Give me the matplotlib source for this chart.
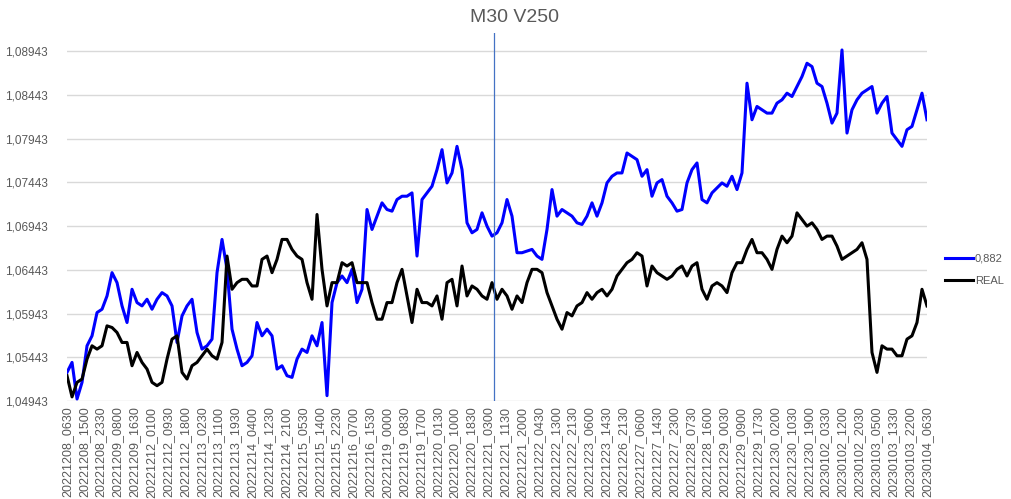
import matplotlib.pyplot as plt
import numpy as np

# tick labels (one every 17 half-hour bars)
labels = [
    '20221208_0630', '20221208_1500', '20221208_2330', '20221209_0800', '20221209_1630',
    '20221212_0100', '20221212_0930', '20221212_1800', '20221213_0230', '20221213_1100',
    '20221213_1930', '20221214_0400', '20221214_1230', '20221214_2100', '20221215_0530',
    '20221215_1400', '20221215_2230', '20221216_0700', '20221216_1530', '20221219_0000',
    '20221219_0830', '20221219_1700', '20221220_0130', '20221220_1000', '20221220_1830',
    '20221221_0300', '20221221_1130', '20221221_2000', '20221222_0430', '20221222_1300',
    '20221222_2130', '20221223_0600', '20221223_1430', '20221226_2130', '20221227_0600',
    '20221227_1430', '20221227_2300', '20221228_0730', '20221228_1600', '20221229_0030',
    '20221229_0900', '20221229_1730', '20221230_0200', '20221230_1030', '20221230_1900',
    '20230102_0330', '20230102_1200', '20230102_2030', '20230103_0500', '20230103_1330',
    '20230103_2200', '20230104_0630',
]

# series "0,882" (sampled along the chart)
pred = [
    1.05270, 1.05384, 1.04966, 1.05156, 1.05574, 1.05688, 1.05954, 1.05992, 1.06144, 1.06410,
    1.06296, 1.06030, 1.05840, 1.06220, 1.06068, 1.06030, 1.06106, 1.05992, 1.06106, 1.06182,
    1.06144, 1.06030, 1.05612, 1.05916, 1.06030, 1.06106, 1.05726, 1.05536, 1.05574,
    1.05650, 1.06410, 1.06790, 1.06448, 1.05764, 1.05536, 1.05346, 1.05384, 1.05460, 1.05840,
    1.05688, 1.05764, 1.05688, 1.05308, 1.05346, 1.05232, 1.05213, 1.05422, 1.05536, 1.05498,
    1.05688, 1.05574, 1.05840, 1.05004, 1.06068, 1.06296, 1.06372, 1.06296, 1.06448,
    1.06068, 1.06220, 1.07132, 1.06904, 1.07056, 1.07208, 1.07132, 1.07113, 1.07246, 1.07284,
    1.07284, 1.07322, 1.06600, 1.07246, 1.07322, 1.07398, 1.07588, 1.07816, 1.07436, 1.07550,
    1.07854, 1.07588, 1.06980, 1.06866, 1.06904, 1.07094, 1.06942, 1.06828, 1.06866,
    1.06980, 1.07246, 1.07056, 1.06638, 1.06638, 1.06657, 1.06676, 1.06600, 1.06562, 1.06904,
    1.07360, 1.07056, 1.07132, 1.07094, 1.07056, 1.06980, 1.06961, 1.07056, 1.07208, 1.07056,
    1.07208, 1.07436, 1.07512, 1.07550, 1.07550, 1.07778, 1.07740, 1.07702, 1.07512,
    1.07588, 1.07284, 1.07436, 1.07474, 1.07284, 1.07208, 1.07113, 1.07132, 1.07436, 1.07588,
    1.07664, 1.07246, 1.07208, 1.07322, 1.07379, 1.07436, 1.07398, 1.07512, 1.07360, 1.07550,
    1.08576, 1.08158, 1.08310, 1.08272, 1.08234, 1.08234, 1.08348, 1.08386, 1.08462,
    1.08424, 1.08538, 1.08652, 1.08804, 1.08766, 1.08576, 1.08538, 1.08348, 1.08120, 1.08234,
    1.08956, 1.08006, 1.08272, 1.08386, 1.08462, 1.08500, 1.08538, 1.08234, 1.08348, 1.08424,
    1.08006, 1.07930, 1.07854, 1.08044, 1.08082, 1.08272, 1.08462, 1.08158,
]

# series "REAL"
real = [
    1.05232, 1.04990, 1.05156, 1.05194, 1.05422, 1.05574, 1.05536, 1.05574, 1.05802, 1.05783,
    1.05726, 1.05612, 1.05612, 1.05346, 1.05498, 1.05384, 1.05308, 1.05156, 1.05118, 1.05156,
    1.05422, 1.05650, 1.05688, 1.05270, 1.05194, 1.05346, 1.05384, 1.05460, 1.05536,
    1.05460, 1.05422, 1.05612, 1.06600, 1.06220, 1.06296, 1.06334, 1.06334, 1.06258, 1.06258,
    1.06562, 1.06600, 1.06410, 1.06562, 1.06790, 1.06790, 1.06676, 1.06600, 1.06562, 1.06296,
    1.06106, 1.07075, 1.06448, 1.06030, 1.06296, 1.06296, 1.06524, 1.06486, 1.06524,
    1.06296, 1.06296, 1.06296, 1.06068, 1.05878, 1.05878, 1.06068, 1.06068, 1.06296, 1.06448,
    1.06144, 1.05840, 1.06220, 1.06068, 1.06068, 1.06030, 1.06144, 1.05878, 1.06296, 1.06334,
    1.06030, 1.06486, 1.06144, 1.06258, 1.06220, 1.06144, 1.06106, 1.06296, 1.06106,
    1.06220, 1.06144, 1.05992, 1.06144, 1.06068, 1.06296, 1.06448, 1.06448, 1.06410, 1.06182,
    1.06030, 1.05878, 1.05764, 1.05954, 1.05916, 1.06030, 1.06068, 1.06182, 1.06106, 1.06182,
    1.06220, 1.06144, 1.06220, 1.06372, 1.06448, 1.06524, 1.06562, 1.06638, 1.06600,
    1.06258, 1.06486, 1.06410, 1.06372, 1.06334, 1.06372, 1.06448, 1.06486, 1.06372, 1.06486,
    1.06524, 1.06220, 1.06106, 1.06258, 1.06296, 1.06258, 1.06182, 1.06410, 1.06524, 1.06524,
    1.06676, 1.06790, 1.06638, 1.06638, 1.06562, 1.06448, 1.06676, 1.06828, 1.06752,
    1.06828, 1.07094, 1.07018, 1.06942, 1.06980, 1.06904, 1.06790, 1.06828, 1.06828, 1.06714,
    1.06562, 1.06600, 1.06638, 1.06676, 1.06752, 1.06562, 1.05498, 1.05270, 1.05574, 1.05536,
    1.05536, 1.05460, 1.05460, 1.05650, 1.05688, 1.05840, 1.06220, 1.06030,
]

y_ticks = [1.04943, 1.05443, 1.05943, 1.06443, 1.06943, 1.07443, 1.07943, 1.08443, 1.08943]
split_at = 85.4  # position of the vertical marker, in sample units

def main():
    gray = '#595959'
    plt.rcParams['font.family'] = ['Liberation Sans', 'DejaVu Sans']

    fig = plt.figure(figsize=(10.11, 4.99), dpi=100)
    ax = fig.add_axes([0.0663, 0.1964, 0.8506, 0.7375])

    x = np.arange(len(pred))
    ax.plot(x, pred, color='#0000ff', lw=2.2, label='0,882', solid_joinstyle='round')
    ax.plot(x, real, color='black', lw=2.2, label='REAL', solid_joinstyle='round')
    ax.axvline(split_at, color='#4472c4', lw=0.9)

    ax.set_xlim(0, len(pred) - 1)
    ax.set_ylim(1.04943, 1.0915)
    ax.set_yticks(y_ticks)
    ax.set_yticklabels([f'{v:.5f}'.replace('.', ',') for v in y_ticks])
    ax.set_xticks(np.linspace(0, len(pred) - 1, len(labels)))
    ax.set_xticklabels(labels, rotation=90)

    ax.grid(axis='y', color='#d9d9d9', lw=1)
    ax.set_axisbelow(True)
    for s in ax.spines.values():
        s.set_visible(False)
    ax.tick_params(axis='y', length=0, pad=14, labelsize=8.5, labelcolor=gray)
    ax.tick_params(axis='x', length=0, pad=4, labelsize=9, labelcolor=gray)

    fig.text(514 / 1011, 1 - 18 / 499, 'M30 V250', ha='center', va='center',
             fontsize=14, color=gray)
    fig.legend(loc='center left', bbox_to_anchor=(0.935, 0.459), frameon=False,
               fontsize=8, labelcolor=gray, handlelength=2.5, handletextpad=0.15,
               labelspacing=1.1, borderpad=0, borderaxespad=0)

    fig.savefig('out.png', dpi=100)

if __name__ == '__main__':
    main()
